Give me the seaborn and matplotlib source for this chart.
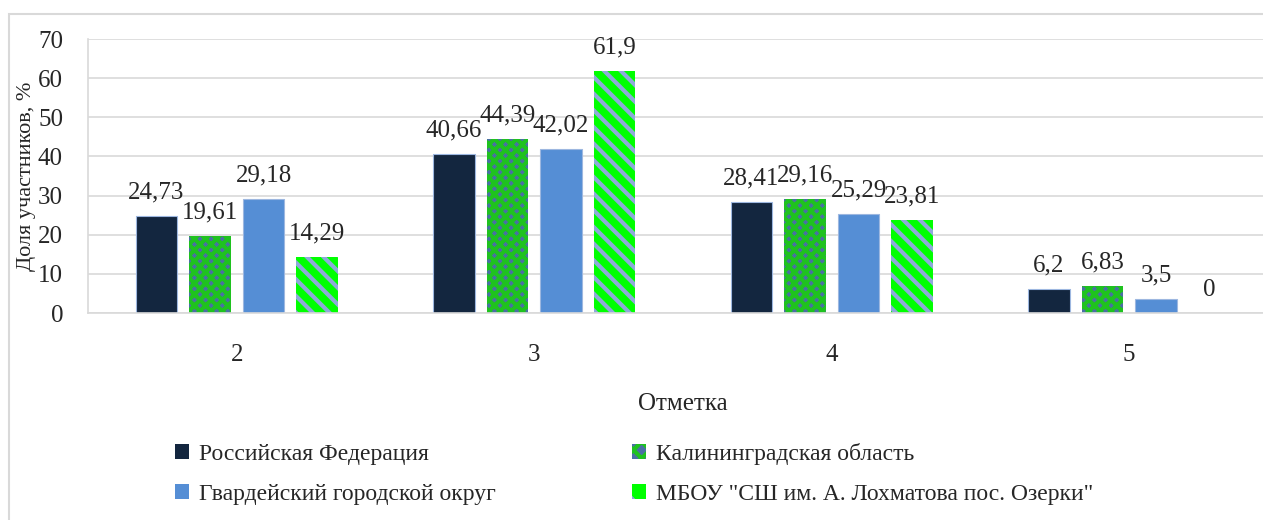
import pandas as pd
import matplotlib.pyplot as plt
import seaborn as sns
from matplotlib.patches import Rectangle, Patch

# Chart data
marks = ['2', '3', '4', '5']
series = ['Российская Федерация', 'Калининградская область',
          'Гвардейский городской округ', 'МБОУ "СШ им. А. Лохматова пос. Озерки"']
rf = [24.73, 40.66, 28.41, 6.2]
kaliningrad = [19.61, 44.39, 29.16, 6.83]
gvardeysk = [29.18, 42.02, 25.29, 3.5]
school = [14.29, 61.9, 23.81, 0]
labels = [['24,73', '40,66', '28,41', '6,2'],
          ['19,61', '44,39', '29,16', '6,83'],
          ['29,18', '42,02', '25,29', '3,5'],
          ['14,29', '61,9', '23,81', '0']]

rows = []
for name, vals in zip(series, [rf, kaliningrad, gvardeysk, school]):
    for m, v in zip(marks, vals):
        rows.append({'Отметка': m, 'Серия': name, 'Доля': v})
df = pd.DataFrame(rows)

sns.set_style('white')
plt.rcParams['font.family'] = ['Liberation Serif', 'DejaVu Serif']
plt.rcParams['hatch.linewidth'] = 3.0

face = ['#13263F', '#4A6FA5', '#558ED5', '#00FF00']
hatch_col = [None, '#1FC21F', None, '#8EA9DB']
hatches = [None, 'xxx', None, '\\\\']
fs = 18

fig = plt.figure(figsize=(12.63, 5.2), dpi=100)
ax = fig.add_axes([88 / 1263, 207 / 520, 1190 / 1263, 274 / 520])

sns.barplot(data=df, x='Отметка', y='Доля', hue='Серия', hue_order=series,
            palette=face, width=0.72, gap=0.22, legend=False, ax=ax)

for i, cont in enumerate(ax.containers):
    for bar in cont:
        bar.set_facecolor(face[i])
        if hatches[i]:
            bar.set_hatch(hatches[i])
            bar.set_edgecolor(hatch_col[i])
            bar.set_linewidth(0)
        else:
            bar.set_edgecolor('#9DB7E0')
            bar.set_linewidth(0.8)
    for bar, txt in zip(cont, labels[i]):
        ax.annotate(txt, (bar.get_x() + bar.get_width() / 2, bar.get_height()),
                    xytext=(0, 9), textcoords='offset points',
                    ha='center', va='bottom', fontsize=fs)

ax.set_xlim(-0.5, 3.5)
ax.set_ylim(0, 70)
ax.set_yticks(range(0, 71, 10))
ax.yaxis.grid(True, color='#D9D9D9', linewidth=1.2)
ax.set_axisbelow(True)
for s in ['top', 'right']:
    ax.spines[s].set_visible(False)
ax.spines['left'].set_color('#D9D9D9')
ax.spines['bottom'].set_color('#D9D9D9')
ax.spines['left'].set_linewidth(1.2)
ax.spines['bottom'].set_linewidth(1.2)

ax.set_xticks([0, 1, 2, 3])
ax.set_xticklabels(marks)
ax.set_xticks([0.5, 1.5, 2.5], minor=True)
ax.tick_params(axis='x', which='major', length=0, pad=22, labelsize=fs)
ax.tick_params(axis='x', which='minor', length=6, color='#D9D9D9', width=1.2)
ax.tick_params(axis='y', length=6, color='#D9D9D9', width=1.2, pad=12, labelsize=fs)

ax.set_xlabel('Отметка', fontsize=fs, labelpad=20)
ax.set_ylabel('Доля участников, %', fontsize=16)
ax.yaxis.set_label_coords((36 - 88) / 1190, 0.5)

# legend in two rows
handles = [Patch(facecolor=face[0], edgecolor='none'),
           Patch(facecolor=face[2], edgecolor='none'),
           Patch(facecolor=face[1], edgecolor=hatch_col[1], hatch='xx', linewidth=0),
           Patch(facecolor=face[3], edgecolor=hatch_col[3], hatch='\\', linewidth=0)]
names = [series[0], series[2], series[1], series[3]]
fig.legend(handles, names, ncol=2, loc='center', bbox_to_anchor=(634 / 1263, 46 / 520),
           frameon=False, fontsize=17, handlelength=0.6, handleheight=0.6,
           handletextpad=0.4, columnspacing=5.8, labelspacing=0.8)

fig.patches.append(Rectangle((9 / 1263, -0.1), 1.2, 1 - 14 / 520 + 0.1,
                             transform=fig.transFigure, fill=False,
                             edgecolor='#D9D9D9', linewidth=1.5))

fig.savefig('out.png', dpi=100)
